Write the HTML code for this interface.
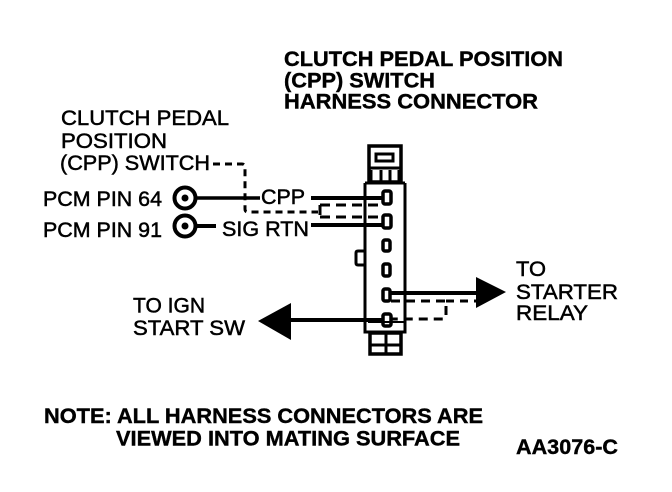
<!DOCTYPE html>
<html><head><meta charset="utf-8"><style>
html,body{margin:0;padding:0;background:#fff;width:672px;height:492px;overflow:hidden}
svg{display:block}
text{font-family:"Liberation Sans",sans-serif;fill:#000;stroke:#000}
.n{font-size:21px;stroke-width:.5}
.b{font-size:21px;font-weight:bold;stroke-width:.4}
</style></head><body>
<svg width="672" height="492" viewBox="0 0 672 492" xmlns="http://www.w3.org/2000/svg">
<text class="b" x="284" y="66" textLength="279" lengthAdjust="spacingAndGlyphs">CLUTCH PEDAL POSITION</text>
<text class="b" x="284" y="87.500" textLength="151" lengthAdjust="spacingAndGlyphs">(CPP) SWITCH</text>
<text class="b" x="284" y="108.500" textLength="254" lengthAdjust="spacingAndGlyphs">HARNESS CONNECTOR</text>
<text class="n" x="61" y="125" textLength="168" lengthAdjust="spacingAndGlyphs">CLUTCH PEDAL</text>
<text class="n" x="61" y="148" textLength="106" lengthAdjust="spacingAndGlyphs">POSITION</text>
<text class="n" x="60" y="170" textLength="150" lengthAdjust="spacingAndGlyphs">(CPP) SWITCH</text>
<text class="n" x="43" y="206" textLength="119" lengthAdjust="spacingAndGlyphs">PCM PIN 64</text>
<text class="n" x="43" y="237" textLength="119" lengthAdjust="spacingAndGlyphs">PCM PIN 91</text>
<text class="n" x="261" y="204" textLength="44" lengthAdjust="spacingAndGlyphs">CPP</text>
<text class="n" x="222" y="236" textLength="87" lengthAdjust="spacingAndGlyphs">SIG RTN</text>
<text class="n" x="516" y="276" textLength="30" lengthAdjust="spacingAndGlyphs">TO</text>
<text class="n" x="516" y="299" textLength="102" lengthAdjust="spacingAndGlyphs">STARTER</text>
<text class="n" x="516" y="320" textLength="72" lengthAdjust="spacingAndGlyphs">RELAY</text>
<text class="n" x="133" y="312.500" textLength="72" lengthAdjust="spacingAndGlyphs">TO IGN</text>
<text class="n" x="133" y="335" textLength="112" lengthAdjust="spacingAndGlyphs">START SW</text>
<text class="b" x="44" y="423" textLength="439" lengthAdjust="spacingAndGlyphs">NOTE: ALL HARNESS CONNECTORS ARE</text>
<text class="b" x="116" y="445.500" textLength="344" lengthAdjust="spacingAndGlyphs">VIEWED INTO MATING SURFACE</text>
<text class="b" x="516" y="454" textLength="102" lengthAdjust="spacingAndGlyphs">AA3076-C</text>

<g fill="none" stroke="#000" stroke-width="3">
<rect x="369" y="146" width="32" height="36" stroke-width="3.5"/>
<rect x="376" y="154" width="17" height="7" stroke-width="3"/>
<path d="M370 168H400M371 170V183M381 170V183M390 170V183M399 170V183" stroke-width="3"/>
<path d="M365 183H405M365 183V332H405V183" stroke-width="3"/>
<path d="M365 251H358Q356 251 356 253V263Q356 265 358 265H365" stroke-width="3"/>
<path d="M368 322H404" stroke-width="2"/>
<rect x="370" y="333" width="31" height="21" stroke-width="3.5"/>
<path d="M386 333V354M370 345H401" stroke-width="3"/>
<rect x="383" y="191" width="8" height="13" rx="2" stroke-width="3.5"/>
<rect x="383" y="215" width="8" height="13" rx="2" stroke-width="3.5"/>
<rect x="383" y="240" width="7" height="11" rx="2" stroke-width="3.5"/>
<rect x="383" y="264" width="7" height="12" rx="2" stroke-width="3.5"/>
<rect x="383" y="289" width="7" height="12" rx="2" stroke-width="3.5"/>
<rect x="383" y="314" width="8" height="12" rx="2" stroke-width="3.5"/>
<circle cx="185" cy="198" r="10.5" stroke-width="4"/>
<circle cx="185" cy="226" r="10.5" stroke-width="4"/>
<circle cx="185" cy="198" r="3.5" fill="#000" stroke="none"/>
<circle cx="185" cy="226" r="3.5" fill="#000" stroke="none"/>
<path d="M196 198H260" stroke-width="3.5"/>
<path d="M196 226H216" stroke-width="4"/>
<path d="M311 198H383" stroke-width="4"/>
<path d="M311 225H383" stroke-width="4"/>
<path d="M390 293H478" stroke-width="4"/>
<path d="M285 320H383" stroke-width="4"/>
<path d="M213 164H242Q245 164 245 167V209Q245 212 248 212H318" stroke-width="3" stroke-dasharray="7 5"/>
<path d="M320 205H382M320 205V217M320 217H382" stroke-width="3" stroke-dasharray="10 6"/>
<path d="M391 301H446V316Q446 319 443 319H392" stroke-width="3" stroke-dasharray="9 6"/>
<path d="M446 301H476" stroke-width="3" stroke-dasharray="8 6"/>
</g>
<polygon points="476,277 506,292 476,308" fill="#000"/>
<polygon points="258,321 291,303 291,340" fill="#000"/>
</svg>
</body></html>
